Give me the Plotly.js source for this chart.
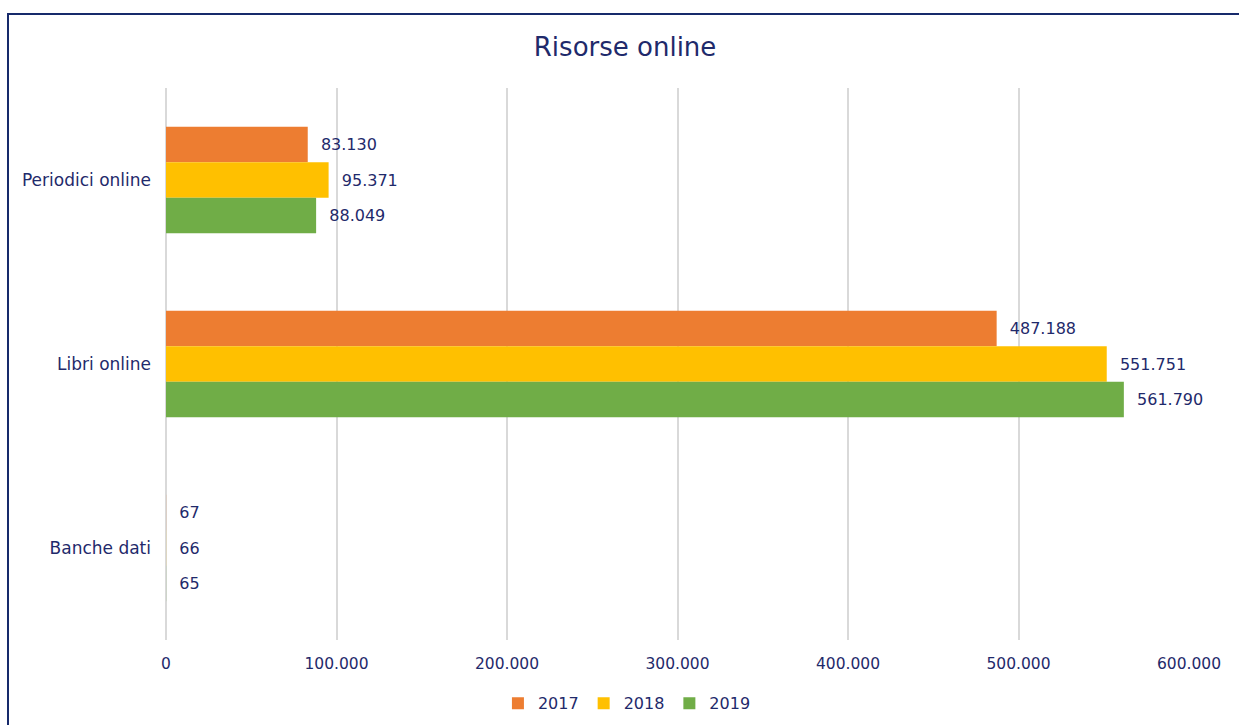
<!DOCTYPE html>
<html>
<head>
<meta charset="utf-8">
<script src="https://cdn.plot.ly/plotly-3.0.1.min.js"></script>
<style>
  html, body { margin: 0; padding: 0; background: #fff; }
  #wrap { position: relative; width: 1239px; height: 725px; overflow: hidden; }
  #chart { position: absolute; left: 0; top: 0; width: 1239px; height: 725px; }
  #frame { position: absolute; left: 7px; top: 13px; width: 1300px; height: 800px;
           border: 2px solid #172A6B; pointer-events: none; box-sizing: border-box; }
</style>
</head>
<body>
<div id="wrap">
  <div id="chart"></div>
  <div id="frame"></div>
</div>
<script>
const categories = ['Periodici online', 'Libri online', 'Banche dati'];
const seriesNames = ['2017', '2018', '2019'];
const values2017 = [83130, 487188, 67];
const values2018 = [95371, 551751, 66];
const values2019 = [88049, 561790, 65];
const colors = ['#ED7D31', '#FFC000', '#70AD47'];
const tickValues = [0, 100000, 200000, 300000, 400000, 500000, 600000];

const navy = '#1F2A6B';
const font = 'DejaVu Sans, sans-serif';
const allValues = [values2017, values2018, values2019];

const traces = seriesNames.map((name, i) => ({
  type: 'bar',
  orientation: 'h',
  name: name,
  y: categories,
  x: allValues[i],
  marker: { color: colors[i] },
  texttemplate: '\u00a0\u00a0%{x:,.0f}',
  textposition: 'outside',
  cliponaxis: false,
  textfont: { family: font, size: 16, color: navy },
  hoverinfo: 'x+name'
}));

const layout = {
  width: 1239,
  height: 725,
  separators: ',.',
  paper_bgcolor: '#fff',
  plot_bgcolor: '#fff',
  font: { family: font, color: navy, size: 16 },
  margin: { l: 166, r: 50, t: 88, b: 85 },
  title: { text: 'Risorse online', x: 0.5045, xref: 'container', y: 0.936, yref: 'container',
           yanchor: 'middle', font: { family: font, size: 26, color: navy } },
  barmode: 'group',
  bargap: 0.42,
  bargroupgap: 0,
  xaxis: {
    range: [0, 600000],
    tickvals: tickValues,
    tickformat: ',.0f',
    showgrid: true,
    gridcolor: '#D9D9D9',
    gridwidth: 2,
    zeroline: true,
    zerolinecolor: '#D9D9D9',
    zerolinewidth: 2,
    showline: false,
    ticks: '',
    ticklabelstandoff: 12,
    tickfont: { family: font, size: 15.5, color: navy },
    fixedrange: true
  },
  yaxis: {
    autorange: 'reversed',
    showgrid: false,
    zeroline: false,
    showline: false,
    ticks: '',
    ticklabelstandoff: 14,
    tickfont: { family: font, size: 17, color: navy },
    fixedrange: true
  },
  legend: {
    orientation: 'h',
    x: 0.506, xref: 'container', xanchor: 'center',
    y: 0.03, yref: 'container', yanchor: 'middle',
    font: { family: font, size: 16, color: navy },
    itemwidth: 30,
    traceorder: 'normal'
  },
  showlegend: true
};

Plotly.newPlot('chart', traces, layout, { displayModeBar: false, staticPlot: true });
</script>
</body>
</html>
